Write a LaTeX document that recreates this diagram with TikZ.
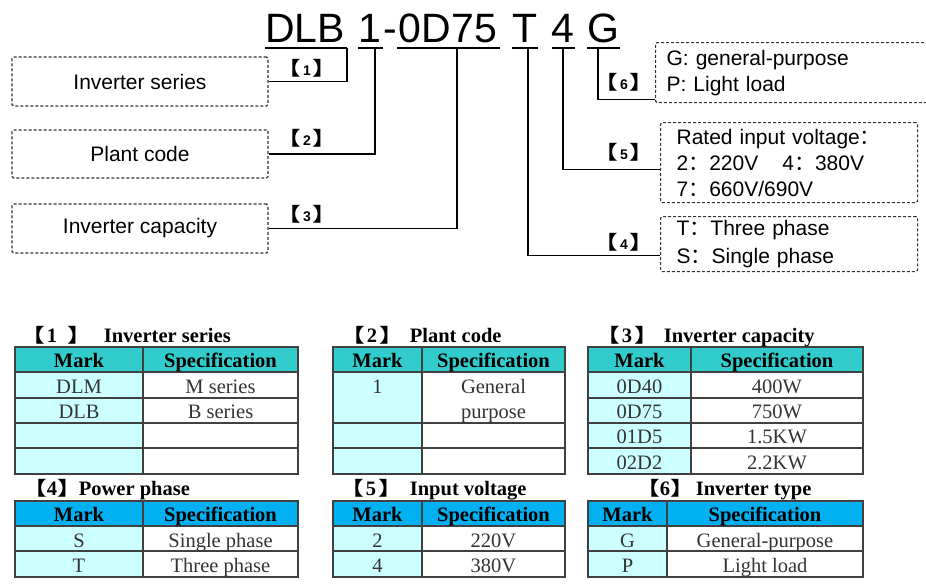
\documentclass[tikz,border=0pt]{standalone}
\usepackage{fontspec}
\setmainfont{Liberation Serif}
\newfontfamily\arial{Liberation Sans}
\newfontfamily\cjk{Noto Sans CJK SC}[BoldFont={Noto Sans CJK SC Bold}]
\usetikzlibrary{positioning}
\definecolor{headteal}{HTML}{33CCCC}
\definecolor{headblue}{HTML}{00B0F0}
\definecolor{markcyan}{HTML}{CCFFFF}
\newcommand{\lbr}{\scalebox{1.3}[1]{\cjk\bfseries\fontsize{19}{19}\selectfont 【}}
\newcommand{\rbr}{\scalebox{1.3}[1]{\cjk\bfseries\fontsize{19}{19}\selectfont 】}}
\newcommand{\tagbr}[1]{\lbr\hspace{2pt}#1\hspace{2pt}\rbr}
\newcommand{\wcolon}{{\cjk ：}}
\tikzset{
    dbox/.style = {draw=black!80, dash pattern=on 3pt off 2pt, line width=1.2pt, rounded corners=1.5pt, font=\arial\fontsize{21}{26}\selectfont},
    conn/.style = {line width=1.3pt},
    uline/.style = {line width=2pt},
    code/.style = {inner sep=0pt, anchor=base, font=\arial\fontsize{41}{41}\selectfont},
    tag/.style = {inner sep=0pt, font=\arial\bfseries\fontsize{14}{14}\selectfont},
    grid/.style = {draw=black!75, line width=1.2pt},
    cell/.style = {inner sep=0pt, anchor=base, font=\fontsize{20.5}{23}\selectfont, text=black!80},
    hcell/.style = {inner sep=0pt, anchor=base, font=\bfseries\fontsize{20.5}{23}\selectfont},
    ttl/.style = {inner sep=0pt, anchor=base west, font=\bfseries\fontsize{20.5}{23}\selectfont}
}
\begin{document}
\begin{tikzpicture}[x=1pt, y=-1pt]
  \useasboundingbox (0,0) rectangle (926,584);
  \clip (0,0) rectangle (926,584);

  % model code
  \node [code] (dlb) at (305,42) {DLB};
  \node [code] (one) at (370,42) {1};
  \node [code] (dash) at (390,42) {-};
  \node [code] (cap) at (448,42) {0D75};
  \node [code] (ph) at (525,42) {T};
  \node [code] (volt) at (563,42) {4};
  \node [code] (gp) at (603,42) {G};
  \foreach \a/\b in {265/347, 358/383, 397/500, 512/538, 552/575, 587/620}
    \draw [uline] (\a,48) -- (\b,48);
  \coordinate (u1) at (347,48);
  \coordinate (u2) at (375,48);
  \coordinate (u3) at (457,48);
  \coordinate (u4) at (528,48);
  \coordinate (u5) at (563,48);
  \coordinate (u6) at (598,48);

  % dashed boxes
  \node [dbox, minimum width=256pt, minimum height=49pt] (box1) at (140,81.5) {Inverter series};
  \node [dbox, minimum width=256pt, minimum height=48pt] (box2) at (140,154) {Plant code};
  \node [dbox, minimum width=256pt, minimum height=49pt] (box3) at (140,228.5) {Inverter capacity};
  \node [dbox, anchor=north west, align=left, text width=268pt, inner xsep=11pt, minimum height=60pt] (box6) at (655,42) {G: general-purpose\\P: Light load};
  \node [dbox, anchor=north west, align=left, text width=225pt, inner xsep=16pt, minimum height=80pt] (box5) at (660,122) {Rated input voltage\wcolon\\2\wcolon 220V\hspace{24pt}4\wcolon 380V\\7\wcolon 660V/690V};
  \node [dbox, anchor=north west, align=left, text width=225pt, inner xsep=16pt, minimum height=55pt, font=\arial\fontsize{21}{28}\selectfont] (box4) at (660,216) {T\wcolon Three phase\\S\wcolon Single phase};

  % connectors
  \draw [conn] (box1.east) -| (u1);
  \draw [conn] (box2.east) -| (u2);
  \draw [conn] (box3.east) -| (u3);
  \draw [conn] (u6) |- ([yshift=4pt]box6.south west);
  \draw [conn] (u5) |- ([yshift=34pt]box5.south west);
  \draw [conn] (u4) |- ([yshift=17pt]box4.south west);
  \node [tag] (t1) at (307,68) {\tagbr{1}};
  \node [tag] (t2) at (307,138) {\tagbr{2}};
  \node [tag] (t3) at (307,214) {\tagbr{3}};
  \node [tag] (t6) at (624,82) {\tagbr{6}};
  \node [tag] (t5) at (624,152) {\tagbr{5}};
  \node [tag] (t4) at (624,242) {\tagbr{4}};

  % tables
  \foreach \l/\m/\r/\t/\b/\hc in {15/143/298/347/474/headteal, 333/422/565/347/474/headteal, 588/691/863/347/474/headteal,
                                  15/143/298/501/577/headblue, 333/422/565/501/577/headblue, 588/667/863/501/577/headblue} {
    \fill [\hc] (\l,\t) rectangle (\r,\t+25);
    \fill [markcyan] (\l,\t+25) rectangle (\m,\b);
    \draw [grid] (\l,\t) rectangle (\r,\b);
    \draw [grid] (\m,\t) -- (\m,\b);
    \draw [grid] (\l,\t+25) -- (\r,\t+25);
  }
  \foreach \y in {398,423,448} {
    \draw [grid] (15,\y) -- (298,\y);
    \draw [grid] (588,\y) -- (863,\y);
  }
  \foreach \y in {423,448}
    \draw [grid] (333,\y) -- (565,\y);
  \foreach \l/\r in {15/298, 333/565, 588/863}
    \draw [grid] (\l,551) -- (\r,551);
  \foreach \mx/\sx/\hy [count=\i] in {79/220.5/367, 377.5/493.5/367, 639.5/777/367, 79/220.5/521, 377.5/493.5/521, 627.5/765/521} {
    \node [hcell] (mark\i) at (\mx,\hy) {Mark};
    \node [hcell] (spec\i) at (\sx,\hy) {Specification};
  }

  % table titles
  \node [ttl] (ttl1) at (20,342) {\tagbr{1\hspace{8pt}}\hspace{12pt}Inverter series};
  \node [ttl] (ttl2) at (340,342) {\tagbr{2}\hspace{6pt}Plant code};
  \node [ttl] (ttl3) at (595,342) {\tagbr{3}\hspace{5pt}Inverter capacity};
  \node [ttl] (ttl4) at (22,495) {\lbr 4\rbr\hspace{-3pt}Power phase};
  \node [ttl] (ttl5) at (339,495) {\tagbr{5}\hspace{7pt}Input voltage};
  \node [ttl] (ttl6) at (635,495) {\lbr 6\rbr\hspace{1pt}Inverter type};

  % table 1
  \node [cell] (a1) at (79,393) {DLM};
  \node [cell] (b1) at (220.5,393) {M series};
  \node [cell] (a2) at (79,418) {DLB};
  \node [cell] (b2) at (220.5,418) {B series};
  % table 2
  \node [cell] (c1) at (377.5,393) {1};
  \node [cell] (d1) at (493.5,393) {General};
  \node [cell] (d2) at (493.5,418) {purpose};
  % table 3
  \node [cell] (e1) at (639.5,393) {0D40};
  \node [cell] (f1) at (777,393) {400W};
  \node [cell] (e2) at (639.5,418) {0D75};
  \node [cell] (f2) at (777,418) {750W};
  \node [cell] (e3) at (639.5,443) {01D5};
  \node [cell] (f3) at (777,443) {1.5KW};
  \node [cell] (e4) at (639.5,469) {02D2};
  \node [cell] (f4) at (777,469) {2.2KW};
  % table 4
  \node [cell] (g1) at (79,547) {S};
  \node [cell] (h1) at (220.5,547) {Single phase};
  \node [cell] (g2) at (79,572) {T};
  \node [cell] (h2) at (220.5,572) {Three phase};
  % table 5
  \node [cell] (i1) at (377.5,547) {2};
  \node [cell] (j1) at (493.5,547) {220V};
  \node [cell] (i2) at (377.5,572) {4};
  \node [cell] (j2) at (493.5,572) {380V};
  % table 6
  \node [cell] (k1) at (627.5,547) {G};
  \node [cell] (l1) at (765,547) {General-purpose};
  \node [cell] (k2) at (627.5,572) {P};
  \node [cell] (l2) at (765,572) {Light load};
\end{tikzpicture}
\end{document}
